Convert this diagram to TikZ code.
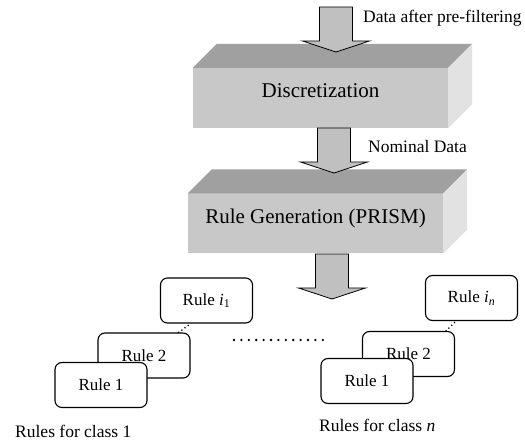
\documentclass[tikz,border=0pt]{standalone}
\usepackage{fontspec}
\setmainfont{Liberation Serif}
\usepackage{xcolor}
\definecolor{faceGray}{HTML}{C8C8C8}
\definecolor{topGray}{HTML}{A0A0A0}
\definecolor{sideGray}{HTML}{E2E2E2}
\definecolor{arrowGray}{HTML}{C0C0C0}

\begin{document}
\begin{tikzpicture}[x=1pt, y=-1pt]
    \pgfmathsetmacro{\dx}{24}	%depth of the slabs
	\pgfmathsetmacro{\dy}{24}
    \tikzset{
        slab/.style={rectangle, fill=faceGray, inner sep=0pt, minimum width=255pt, minimum height=60pt,
            text height=15pt, text depth=15pt, font=\fontsize{21}{25}\selectfont},
        rulebox/.style={draw, line width=1.1pt, rounded corners=7pt, fill=white, inner sep=0pt,
            minimum width=92pt, minimum height=45pt, font=\fontsize{17}{20}\selectfont},
        note/.style={inner sep=0pt, anchor=base west, font=\fontsize{17.5}{20}\selectfont},
        linkdots/.style={line width=1.8pt, line cap=round, dash pattern=on 0pt off 4pt},
        rowdots/.style={line width=2.6pt, line cap=round, dash pattern=on 0pt off 7.4pt},
        blockarrow/.pic={
            \filldraw[draw=black, fill=arrowGray, line width=0.8pt] (-16.5,0)--(16.5,0)--(16.5,34)--(33.5,34)--(0,45)--(-33.5,34)--(-16.5,34)--cycle;
        }
    };
    \useasboundingbox (0,0) rectangle (525,443);
    % slabs
    \node[slab] (disc) at (320.5,98) {Discretization};
    \node[slab] (rgen) at (315.5,223.5) {Rule Generation (PRISM)};
    \foreach \s in {disc,rgen}{
        \fill[topGray] (\s.north west)--++(\dx,-\dy)--([shift={(\dx,-\dy)}]\s.north east)--(\s.north east)--cycle;
        \fill[sideGray] (\s.north east)--++(\dx,-\dy)--([shift={(\dx,-\dy)}]\s.south east)--(\s.south east)--cycle;
    }
	\draw(336,7) pic {blockarrow};
	\draw(334,128) pic {blockarrow};
	\draw(332,254) pic {blockarrow};
    \node[note] (inlbl) at (363,23) {Data after pre-filtering};
    \node[note] (nomlbl) at (368,153) {Nominal Data};
    % rules for class 1
    \node[rulebox] (ri1) at (206.5,300.5) {Rule \textit{i}\textsubscript{1}};
    \node[rulebox] (r2a) at (144,355.5) {Rule 2};
    \node[rulebox] (r1a) at (101,385) {Rule 1};
    \draw[linkdots] ([xshift=-12pt]r2a.north east)--([xshift=31pt]ri1.south west);
    \node[note] (cls1) at (15,438) {Rules for class 1};
    % rules for class n
    \node[rulebox] (rin) at (471.5,298) {Rule \textit{i}\textsubscript{\textit{n}}};
    \node[rulebox] (r2b) at (408.5,354) {Rule 2};
    \node[rulebox] (r1b) at (367,381) {Rule 1};
    \draw[linkdots] ([xshift=-9pt]r2b.north east)--([xshift=31pt]rin.south west);
    \node[note] (clsn) at (319,432) {Rules for class \textit{n}};
    % between the classes
    \coordinate (dotsL) at (234,340);
    \coordinate (dotsR) at (330,340);
    \draw[rowdots] (dotsL)--(dotsR);
\end{tikzpicture}
\end{document}
